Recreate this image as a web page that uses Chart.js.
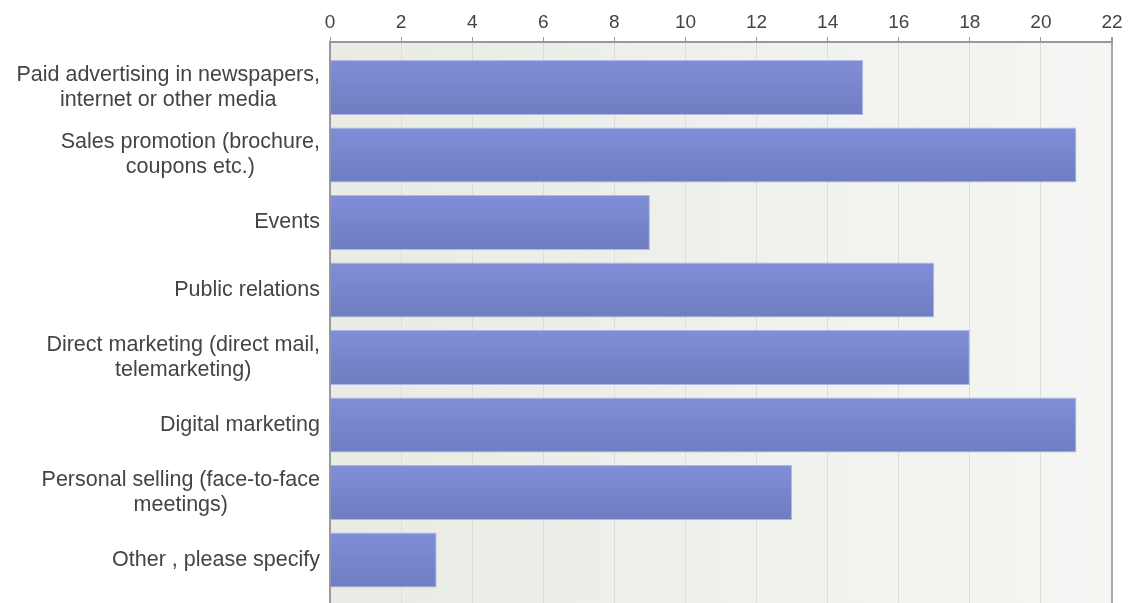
<!DOCTYPE html>
<html>
<head>
<meta charset="utf-8">
<title>Promotion methods</title>
<script src="https://cdn.jsdelivr.net/npm/chart.js@4/dist/chart.umd.min.js"></script>
<style>
  html, body { margin: 0; padding: 0; background: #fff; }
  canvas { display: block; }
</style>
</head>
<body>
<canvas id="promoChart" width="1135" height="603"></canvas>
<script>
// === data ===
const categories = [
    ["Paid advertising in newspapers,", "internet or other media"],
    ["Sales promotion (brochure,", "coupons etc.)"],
    ["Events"],
    ["Public relations"],
    ["Direct marketing (direct mail,", "telemarketing)"],
    ["Digital marketing"],
    ["Personal selling (face-to-face", "meetings)"],
    ["Other , please specify"]
];
const responses = [15, 21, 9, 17, 18, 21, 13, 3];

// value axis ticks: 0, 2, ... 22
const X_MIN = 0;
const X_MAX = 22;
const X_STEP = 2;

const FONT = "'Liberation Sans', Arial, sans-serif";
const TEXT_COLOR = "#444";

// === plugins ===

// light plot background, a bit greener on the left
const plotBackground = {
    id: "plotBackground",
    beforeDraw(chart) {
        const { ctx, chartArea: a } = chart;
        const g = ctx.createLinearGradient(a.left, 0, a.right, 0);
        g.addColorStop(0, "#e8ece4");
        g.addColorStop(1, "#f5f6f3");
        ctx.save();
        ctx.fillStyle = g;
        ctx.fillRect(a.left, a.top, a.right - a.left, a.bottom - a.top);
        ctx.restore();
    }
};

// vertical shading on each bar: one gradient over the plot with a
// light->dark pair of stops for every bar (the options object is shared)
const barShading = {
    id: "barShading",
    beforeDatasetDraw(chart, args) {
        const { ctx, chartArea: a } = chart;
        const h = a.bottom - a.top;
        const g = ctx.createLinearGradient(0, a.top, 0, a.bottom);
        const clamp = v => Math.min(1, Math.max(0, v));
        args.meta.data.forEach(bar => {
            const top = bar.y - bar.height / 2;
            g.addColorStop(clamp((top - a.top) / h), "#7f8ed7");
            g.addColorStop(clamp((top + bar.height - a.top) / h), "#6f7ec1");
        });
        args.meta.data.forEach(bar => { bar.options.backgroundColor = g; });
    }
};

// category labels: block right-aligned to the axis, lines centred inside it
const categoryLabels = {
    id: "categoryLabels",
    afterDraw(chart) {
        const { ctx } = chart;
        const yScale = chart.scales.y;
        const right = yScale.right - 10;
        const lineH = 25;
        ctx.save();
        ctx.font = `21.5px ${FONT}`;
        ctx.fillStyle = TEXT_COLOR;
        ctx.textAlign = "center";
        ctx.textBaseline = "middle";
        categories.forEach((lines, i) => {
            const w = Math.max(...lines.map(l => ctx.measureText(l).width));
            const cx = right - w / 2;
            const cy = yScale.getPixelForValue(i);
            lines.forEach((line, j) => {
                ctx.fillText(line, cx, cy + (j - (lines.length - 1) / 2) * lineH);
            });
        });
        ctx.restore();
    }
};

// === chart ===
const ctx = document.getElementById("promoChart").getContext("2d");

new Chart(ctx, {
    type: "bar",
    data: {
        datasets: [{
            data: responses.map((v, i) => ({ x: v, y: i })),
            backgroundColor: "#7686cc",
            borderColor: "rgba(160,170,225,0.8)",
            borderWidth: 1,
            borderSkipped: "left",
            categoryPercentage: 1,
            barPercentage: 0.815
        }]
    },
    options: {
        indexAxis: "y",
        responsive: false,
        animation: false,
        layout: { padding: { top: 0, right: 23, bottom: 0, left: 0 } },
        plugins: {
            legend: { display: false },
            tooltip: { enabled: false }
        },
        scales: {
            x: {
                type: "linear",
                position: "top",
                min: X_MIN,
                max: X_MAX,
                ticks: {
                    stepSize: X_STEP,
                    color: TEXT_COLOR,
                    font: { family: FONT, size: 19 },
                    padding: 3
                },
                grid: {
                    color: c => (c.tick && c.tick.value === X_MAX ? "#a8a8a8" : "#dcdfd8"),
                    lineWidth: c => (c.tick && c.tick.value === X_MAX ? 2 : 1),
                    tickColor: "#999",
                    tickLength: 5
                },
                border: { display: true, color: "#999", width: 2 },
                afterFit: scale => { scale.height = 42; }
            },
            y: {
                type: "linear",
                reverse: true,
                offset: false,
                min: -0.674,
                max: 7.637,
                afterBuildTicks: scale => {
                    scale.ticks = categories.map((_, i) => ({ value: i }));
                },
                ticks: { display: false },
                grid: { display: false },
                border: { display: true, color: "#999", width: 2 },
                afterFit: scale => { scale.width = 330; }
            }
        }
    },
    plugins: [plotBackground, barShading, categoryLabels]
});
</script>
</body>
</html>
